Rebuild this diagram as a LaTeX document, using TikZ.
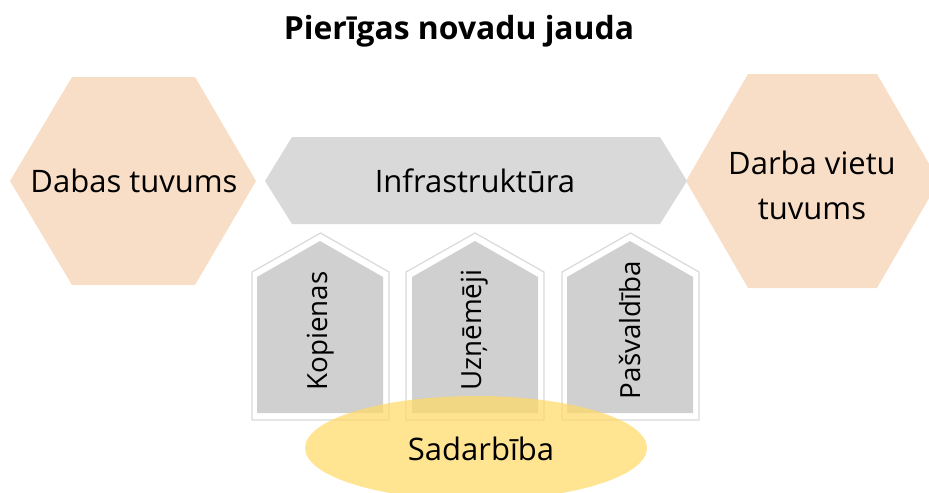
\documentclass[tikz,border=0pt]{standalone}
\usepackage{fontspec}
\setmainfont{Open Sans}
\usepackage{xcolor}
\usepackage{tikz}
\usetikzlibrary{shapes.geometric}
\definecolor{peach}{HTML}{F9DEC7}
\definecolor{banner}{HTML}{D9D9D9}
\definecolor{housegray}{HTML}{D0D0D0}
\definecolor{houseline}{HTML}{D9D9D9}
\definecolor{gold}{HTML}{FFD966}
\tikzset{
  label big/.style={
    font=\fontsize{23.25}{33.75}\selectfont,
    align=center,
    inner sep=0pt,
  },
  label title/.style={
    font=\fontsize{23.9}{28}\selectfont\bfseries,
    inner sep=0pt,
  },
  label house/.style={
    font=\fontsize{20.8}{24}\selectfont,
    rotate=90,
    inner sep=0pt,
  },
  house outline/.style={
    draw=houseline,
    line width=0.9pt,
    fill=white,
  },
  house fill/.style={
    fill=housegray,
  }
}

\begin{document}
\begin{tikzpicture}[x=0.75pt,y=-0.75pt]
        \useasboundingbox (0,0) rectangle (929,493);

        % hexagons and banner
        \fill[peach] (10,181) -- (72,77) -- (195,77) -- (256,181) -- (195,285) -- (72,285) -- cycle;
        \fill[peach] (686,181) -- (748,74) -- (877,74) -- (939,181) -- (877,288) -- (748,288) -- cycle;
        \fill[banner] (265,181) -- (292,137) -- (660,137) -- (687,181) -- (660,224) -- (292,224) -- cycle;

        % houses
        \draw[house outline] (252,420) -- (252,272) -- (320.5,233) -- (389,272) -- (389,420) -- cycle;
        \fill[house fill] (257,413) -- (257,277) -- (320,241) -- (383,277) -- (383,413) -- cycle;
        \draw[house outline] (406,420) -- (406,272) -- (475,233) -- (544,272) -- (544,420) -- cycle;
        \fill[house fill] (412,413) -- (412,277) -- (475,241) -- (538,277) -- (538,413) -- cycle;
        \draw[house outline] (562,420) -- (562,272) -- (630.5,233) -- (699,272) -- (699,420) -- cycle;
        \fill[house fill] (567,413) -- (567,277) -- (630,241) -- (693,277) -- (693,413) -- cycle;

        % cooperation
        \fill[gold, fill opacity=0.72] (476,448) ellipse [x radius=171, y radius=52];

        \node[label title] (title) at (459,31) {Pierīgas novadu jauda};
        \begin{scope}[every node/.style={label big}]
            \node (daba) at (134,181) {Dabas tuvums};
            \node (darbs) at (812,185) {Darba vietu\\tuvums};
            \node (infra) at (475,181) {Infrastruktūra};
            \node (sadarb) at (481,449) {Sadarbība};
        \end{scope}
        \begin{scope}[every node/.style={label house}]
            \node (kop) at (321,331) {Kopienas};
            \node (uzn) at (475,330) {Uzņēmēji};
            \node (pas) at (630,330) {Pašvaldība};
        \end{scope}
    \end{tikzpicture}
\end{document}
